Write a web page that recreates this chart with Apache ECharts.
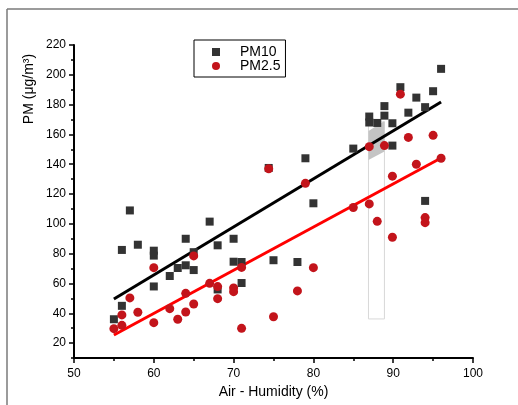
<!DOCTYPE html>
<html>
<head>
<meta charset="utf-8">
<script src="https://cdn.jsdelivr.net/npm/echarts@6/dist/echarts.min.js"></script>
<style>
html,body{margin:0;padding:0;background:#fff;}
#c{width:518px;height:405px;}
</style>
</head>
<body>
<div id="c"></div>
<script>
// ---- data ----
const pm10 = [
  [55,36],[56,45],[56,82.5],[57,109],[58,86],[60,82],[60,78.7],[60,58],[62,65],
  [63,70.4],[64,72.2],[64,90],[65,69],[65,81],[67,101.5],[68,85.6],[68,56],
  [70,90],[70,74.6],[71,74.4],[71,60.3],[74.4,137.5],[75,75.6],[78,74.4],
  [79,144],[80,113.8],[85,150.5],[87,172],[87,168],[88,167.7],[88.9,179],
  [88.9,172.6],[89.9,167.5],[89.9,152.5],[90.9,191.7],[91.9,174.6],[92.9,184.7],
  [94,178.3],[94,115.4],[95,189],[96,204]
];
const pm25 = [
  [55,29.7],[56,31.9],[56,38.9],[57,50.3],[58,40.7],[60,70.6],[60,33.7],[62,43.1],
  [63,36],[64,40.9],[64,53.4],[65,78.5],[65,46.2],[67,60.1],[68,57.9],[68,49.8],
  [70,54.5],[70,57],[71,70.8],[71,29.9],[74.4,137],[75,37.7],[78,55],[79,127.2],
  [80,70.6],[85,111],[87,113.4],[87,151.8],[88,101.7],[88.9,152.5],[89.9,132],
  [89.9,91],[90.9,187],[91.9,158],[92.9,140],[94,104.2],[94,100.8],[95,159.4],[96,144]
];
const fit10 = [[55,49.6],[96,181.8]];
const fit25 = [[55,25.4],[96,144.2]];
const bandRect = [86.9, 36.2, 88.9, 168.4];
const bandPoly = [[86.9,162.3],[88.9,169],[88.9,148.5],[86.9,142.9]];
const xTicks = {min:50, max:100, interval:10};
const yMajor = [20,40,60,80,100,120,140,160,180,200,220];
const yMinor = [10,30,50,70,90,110,130,150,170,190,210];
const yRange = {min:10, max:220};

const FONT = 'Liberation Sans, Arial, sans-serif';
const chart = echarts.init(document.getElementById('c'), null, {renderer:'canvas'});
chart.setOption({
  animation:false,
  backgroundColor:'#fff',
  textStyle:{fontFamily:FONT},
  grid:{left:74, right:45, top:45, bottom:47, containLabel:false},
  legend:{
    left:194, top:40, orient:'vertical',
    borderColor:'#000', borderWidth:1, borderRadius:0,
    padding:[5,5,4,18], itemGap:0, itemWidth:8, itemHeight:8,
    textStyle:{fontSize:14, color:'#000', fontFamily:FONT, padding:[0,0,0,15]},
    data:[{name:'PM10', icon:'rect'},{name:'PM2.5', icon:'circle'}]
  },
  xAxis:{
    type:'value', min:xTicks.min, max:xTicks.max, interval:xTicks.interval,
    name:'Air - Humidity (%)', nameLocation:'middle', nameGap:22,
    nameTextStyle:{fontSize:14, color:'#000', fontFamily:FONT},
    axisLine:{show:true, onZero:false, lineStyle:{color:'#000', width:2}},
    axisTick:{show:true, inside:false, length:5, lineStyle:{color:'#000', width:1.5}},
    minorTick:{show:true, splitNumber:2, length:3, lineStyle:{color:'#000', width:1.5}},
    axisLabel:{fontSize:12, color:'#000', margin:10, fontFamily:FONT},
    splitLine:{show:false}
  },
  yAxis:[{
    type:'value', min:yRange.min, max:yRange.max,
    axisLine:{show:true, onZero:false, lineStyle:{color:'#000', width:2}},
    axisTick:{show:true, inside:false, length:5, customValues:yMajor, lineStyle:{color:'#000', width:1.5}},
    axisLabel:{fontSize:12, color:'#000', margin:8, customValues:yMajor, fontFamily:FONT},
    splitLine:{show:false}
  },{
    type:'value', min:yRange.min, max:yRange.max, position:'left',
    axisLine:{show:false},
    axisTick:{show:true, inside:false, length:3, customValues:yMinor, lineStyle:{color:'#000', width:1.5}},
    axisLabel:{show:false},
    splitLine:{show:false}
  }],
  graphic:[
    {type:'line', shape:{x1:7, y1:9, x2:518, y2:9}, style:{stroke:'#7a7a7a', lineWidth:1.5}},
    {type:'line', shape:{x1:7, y1:9, x2:7, y2:405}, style:{stroke:'#7a7a7a', lineWidth:1.5}},
    {type:'text', x:29, y:89, rotation:Math.PI/2,
     style:{text:'PM (μg/m³)', font:'14px '+FONT, fill:'#000', align:'center', verticalAlign:'middle'}}
  ],
  series:[
    {
      type:'custom', silent:true, z:1,
      data:[0],
      renderItem:function(params, api){
        const p1 = api.coord([bandRect[0], bandRect[3]]);
        const p2 = api.coord([bandRect[2], bandRect[1]]);
        const poly = bandPoly.map(function(d){return api.coord(d);});
        return {type:'group', children:[
          {type:'rect', shape:{x:p1[0], y:p1[1], width:p2[0]-p1[0], height:p2[1]-p1[1]},
           style:{fill:'rgba(255,255,255,0)', stroke:'#d8d8d8', lineWidth:1}},
          {type:'polygon', shape:{points:poly}, style:{fill:'#c4c4c4'}}
        ]};
      }
    },
    {name:'fit10', type:'line', data:fit10, symbol:'none', z:3,
     lineStyle:{color:'#000', width:3}},
    {name:'fit25', type:'line', data:fit25, symbol:'none', z:3,
     lineStyle:{color:'#ff0000', width:3}},
    {name:'PM10', type:'scatter', data:pm10, symbol:'rect', symbolSize:8, z:4,
     itemStyle:{color:'#333333', opacity:1}},
    {name:'PM2.5', type:'scatter', data:pm25, symbol:'circle', symbolSize:9, z:4,
     itemStyle:{color:'#c3141b', opacity:1}}
  ]
});
</script>
</body>
</html>
